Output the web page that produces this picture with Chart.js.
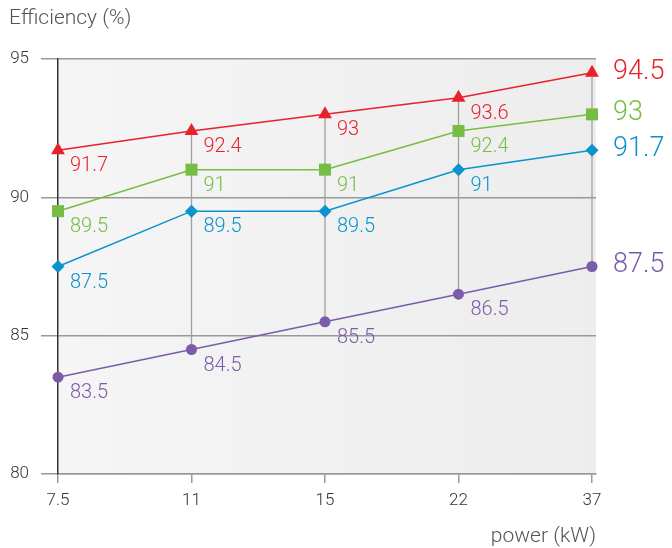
<!doctype html>
<html lang="en">
  <head>
    <meta charset="utf-8">
    <title>Efficiency vs power</title>
    <style>
      * { margin: 0; padding: 0; }
      body { background: #fff; }
      .chartBox { width: 672px; height: 548px; }
    </style>
  </head>
  <body>
    <div class="chartBox">
      <canvas id="myChart"></canvas>
    </div>
    <script src="https://cdn.jsdelivr.net/npm/chart.js/dist/chart.umd.min.js"></script>
    <script>
    // data
    const powers = ['7.5', '11', '15', '22', '37'];
    const redSeries = [91.7, 92.4, 93, 93.6, 94.5];
    const greenSeries = [89.5, 91, 91, 92.4, 93];
    const blueSeries = [87.5, 89.5, 89.5, 91, 91.7];
    const purpleSeries = [83.5, 84.5, 85.5, 86.5, 87.5];
    const yTicks = [80, 85, 90, 95];

    const FONT = 'Roboto, "Liberation Sans", sans-serif';

    function toPoints(arr) {
      return arr.map((v, i) => ({ x: i, y: v }));
    }

    function series(values, color, style, radius) {
      return {
        data: toPoints(values),
        borderColor: color,
        backgroundColor: color,
        borderWidth: 1.5,
        pointStyle: style,
        pointRadius: radius,
        pointHoverRadius: radius,
        pointBorderWidth: 0,
        tension: 0,
        clip: false
      };
    }

    // background + drop lines
    const backdrop = {
      id: 'backdrop',
      beforeDraw(chart) {
        const { ctx, chartArea: a } = chart;
        const g = ctx.createLinearGradient(a.left, 0, a.right, 0);
        g.addColorStop(0, '#f4f5f4');
        g.addColorStop(1, '#ecedec');
        ctx.save();
        ctx.fillStyle = g;
        ctx.fillRect(a.left, a.top, a.right - a.left, a.bottom - a.top);
        ctx.restore();
      },
      beforeDatasetsDraw(chart) {
        const { ctx, scales } = chart;
        const sets = chart.data.datasets;
        ctx.save();
        ctx.strokeStyle = '#a0a0a0';
        ctx.lineWidth = 1.3;
        for (let i = 1; i < powers.length; i++) {
          const vals = sets.map(d => d.data[i].y);
          const x = scales.x.getPixelForValue(i);
          ctx.beginPath();
          ctx.moveTo(x, scales.y.getPixelForValue(Math.max(...vals)));
          ctx.lineTo(x, scales.y.getPixelForValue(Math.min(...vals)));
          ctx.stroke();
        }
        ctx.restore();
      }
    };

    // value labels and axis titles
    const labels = {
      id: 'labels',
      afterDatasetsDraw(chart) {
        const { ctx, chartArea: a } = chart;
        ctx.save();
        chart.data.datasets.forEach((ds, di) => {
          const meta = chart.getDatasetMeta(di);
          meta.data.forEach((pt, i) => {
            const last = i === ds.data.length - 1;
            ctx.fillStyle = ds.borderColor;
            ctx.textBaseline = 'middle';
            ctx.textAlign = 'left';
            if (last) {
              ctx.font = '300 27px ' + FONT;
              ctx.fillText(String(ds.data[i].y), pt.x + 21, pt.y - 1);
            } else {
              ctx.font = '300 20px ' + FONT;
              ctx.fillText(String(ds.data[i].y), pt.x + 12, pt.y + 16);
            }
          });
        });
        ctx.fillStyle = '#555';
        ctx.font = '300 21px ' + FONT;
        ctx.textAlign = 'left';
        ctx.textBaseline = 'middle';
        ctx.fillText('Efficiency (%)', 9, 19);
        ctx.textAlign = 'right';
        ctx.fillText('power (kW)', a.right, 537);
        ctx.restore();
      }
    };

    const data = {
      datasets: [
        series(redSeries, '#e8212b', 'triangle', 8),
        series(greenSeries, '#76bd43', 'rect', 8.5),
        series(blueSeries, '#0c93cd', 'rectRot', 6.5),
        series(purpleSeries, '#7a5ca8', 'circle', 5.5)
      ]
    };

    const config = {
      type: 'line',
      data,
      options: {
        responsive: false,
        animation: false,
        events: [],
        layout: { padding: { top: 59, right: 76, left: 0, bottom: 0 } },
        plugins: { legend: { display: false }, tooltip: { enabled: false } },
        scales: {
          x: {
            type: 'linear',
            min: 0,
            max: 4.03,
            offset: false,
            afterBuildTicks: s => { s.ticks = powers.map((p, i) => ({ value: i })); },
            afterFit: s => { s.height = 74; },
            ticks: {
              callback: v => powers[v],
              color: '#333',
              font: { family: FONT, size: 17, weight: '300' },
              padding: 8,
              maxRotation: 0
            },
            grid: { drawOnChartArea: false, drawTicks: true, tickLength: 9, color: '#999', lineWidth: 1.5 },
            border: { display: true, color: '#999', width: 1.5 }
          },
          y: {
            min: 80,
            max: 95,
            afterBuildTicks: s => { s.ticks = yTicks.map(v => ({ value: v })); },
            afterFit: s => { s.width = 58; },
            ticks: {
              color: '#333',
              font: { family: FONT, size: 17, weight: '300' },
              padding: 12
            },
            grid: { color: '#999', lineWidth: 1.5, tickLength: 17, drawTicks: true },
            border: { display: true, color: '#333', width: 1.5 }
          }
        }
      },
      plugins: [backdrop, labels]
    };

    const ctx = document.getElementById('myChart');
    ctx.width = 672;
    ctx.height = 548;
    const myChart = new Chart(ctx, config);
    </script>
  </body>
</html>
